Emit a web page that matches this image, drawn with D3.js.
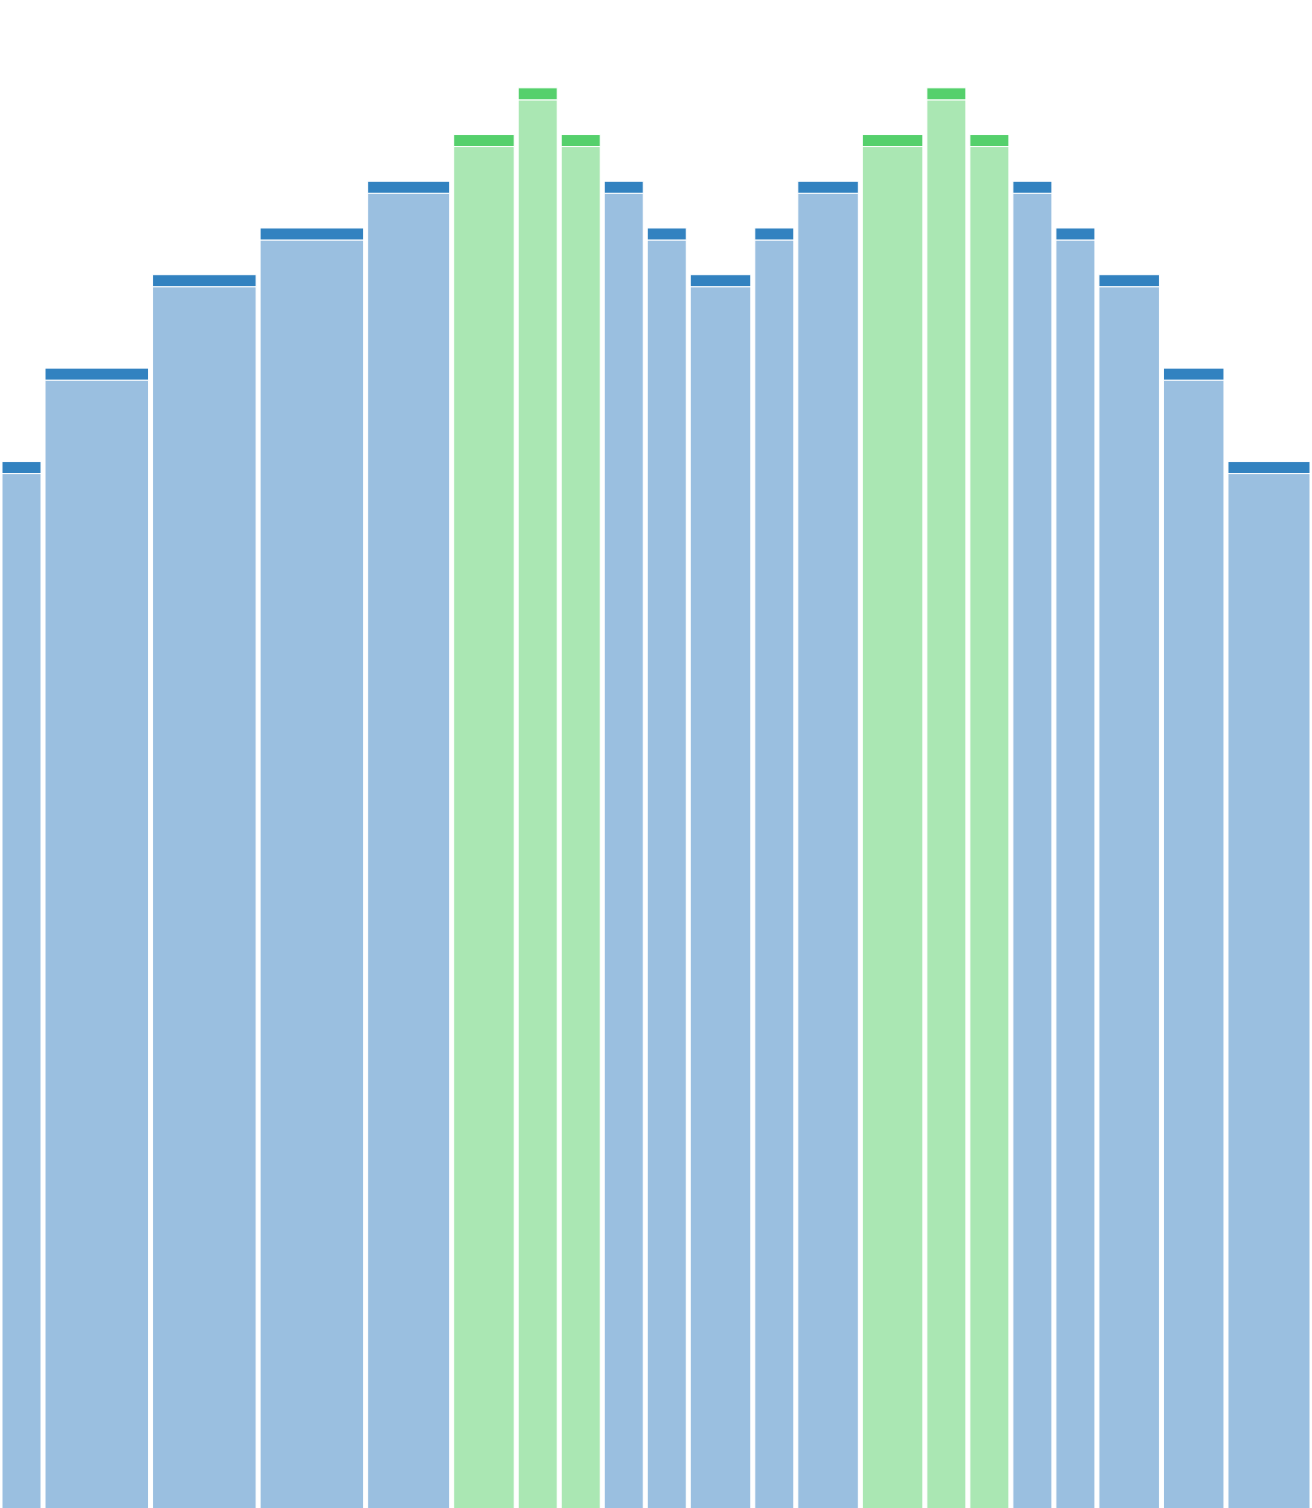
<!DOCTYPE html>
<html>
<head>
<meta charset="utf-8">
<script src="https://cdn.jsdelivr.net/npm/d3@7"></script>
<style>
  html, body { margin: 0; padding: 0; background: #ffffff; }
  svg { display: block; }
</style>
</head>
<body>
<svg id="chart" width="1312" height="1508"></svg>
<script>
// Bins (categories), their relative widths, values and highlight flag
const categories = ["B1","B2","B3","B4","B5","B6","B7","B8","B9","B10","B11",
                    "B12","B13","B14","B15","B16","B17","B18","B19","B20","B21"];
const widths     = [2, 5, 5, 5, 4, 3, 2, 2, 2, 2, 3, 2, 3, 3, 2, 2, 2, 2, 3, 3, 4];
const values     = [22.4, 24.4, 26.4, 27.4, 28.4, 29.4, 30.4, 29.4, 28.4, 27.4, 26.4,
                    27.4, 28.4, 29.4, 30.4, 29.4, 28.4, 27.4, 26.4, 24.4, 22.4];
const highlight  = [0,0,0,0,0,1,1,1,0,0,0,0,0,1,1,1,0,0,0,0,0];

const W = 1312, H = 1508;
const svg = d3.select("#chart");

// cumulative positions
let acc = 0;
const bins = categories.map((c, i) => {
  const b = { cat: c, x0: acc, x1: acc + widths[i], v: values[i], hi: highlight[i] };
  acc += widths[i];
  return b;
});

const x = d3.scaleLinear().domain([0, acc]).range([0, W]);
const y = d3.scaleLinear().domain([0, 32.28]).range([H, 0]);

const fillLight = d => d.hi ? "#aae7b3" : "#9abfe0";
const fillDark  = d => d.hi ? "#55d06c" : "#3282c0";
const capH = 12;
const inset = 2;

const g = svg.append("g");

// body of each bar
g.selectAll("rect.body").data(bins).join("rect")
  .attr("class", "body")
  .attr("x", d => x(d.x0) + inset)
  .attr("width", d => x(d.x1) - x(d.x0) - 2 * inset)
  .attr("y", d => y(d.v) + capH)
  .attr("height", d => H - y(d.v) - capH + 2)
  .attr("fill", fillLight)
  .attr("stroke", "#ffffff")
  .attr("stroke-width", 1);

// darker cap on top
g.selectAll("rect.cap").data(bins).join("rect")
  .attr("class", "cap")
  .attr("x", d => x(d.x0) + inset)
  .attr("width", d => x(d.x1) - x(d.x0) - 2 * inset)
  .attr("y", d => y(d.v))
  .attr("height", capH)
  .attr("fill", fillDark)
  .attr("stroke", "#ffffff")
  .attr("stroke-width", 1);
</script>
</body>
</html>
